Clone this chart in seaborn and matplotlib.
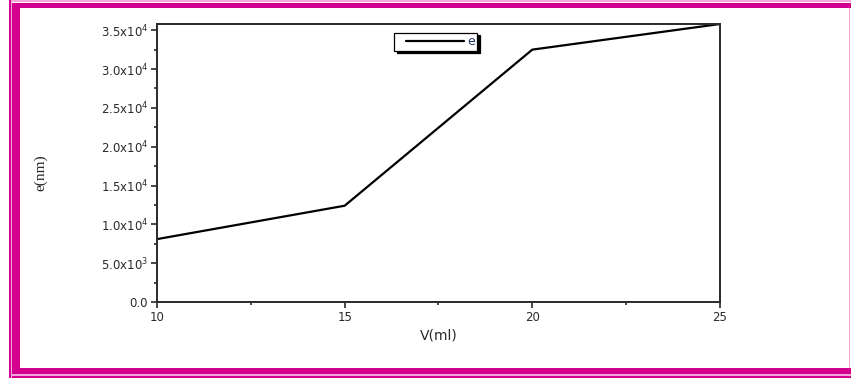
import matplotlib
matplotlib.use("Agg")
import matplotlib.pyplot as plt
from matplotlib.patches import Rectangle
from matplotlib.lines import Line2D
from matplotlib.legend_handler import HandlerLine2D
from matplotlib.ticker import MultipleLocator, FixedLocator
import seaborn as sns
import pandas as pd

# Measured thickness e (nm) versus added volume V (ml)
volume_ml = [10, 15, 20, 25]
thickness_nm = [8100, 12400, 32500, 35800]
series_name = "e"

y_ticks = [0, 5000, 10000, 15000, 20000, 25000, 30000, 35000]
y_tick_labels = ["0.0", r"5.0x10$^3$", r"1.0x10$^4$", r"1.5x10$^4$", r"2.0x10$^4$",
                 r"2.5x10$^4$", r"3.0x10$^4$", r"3.5x10$^4$"]
x_ticks = [10, 15, 20, 25]

sns.set_style("ticks")
plt.rcParams["font.family"] = ["DejaVu Sans"]
plt.rcParams["mathtext.fontset"] = "dejavusans"

df = pd.DataFrame({"V": volume_ml, "e": thickness_nm, "series": series_name})

fig = plt.figure(figsize=(8.51, 3.78), dpi=100)
ax = fig.add_axes([0.1845, 0.201, 0.6615, 0.7355])

sns.lineplot(data=df, x="V", y="e", hue="series", palette=["black"],
             linewidth=1.6, ax=ax, legend=True)

ax.set_xlim(10, 25)
ax.set_ylim(0, 35800)
ax.xaxis.set_major_locator(FixedLocator(x_ticks))
ax.xaxis.set_minor_locator(MultipleLocator(2.5))
ax.yaxis.set_major_locator(FixedLocator(y_ticks))
ax.yaxis.set_minor_locator(MultipleLocator(2500))
ax.set_yticklabels(y_tick_labels)
ax.set_xticklabels([str(v) for v in x_ticks])

ax.tick_params(axis="both", which="major", direction="out", length=4, width=1.2,
               labelsize=8.5, colors="#2a2a2a", pad=2.5)
ax.tick_params(axis="both", which="minor", direction="out", length=2.5, width=1.2,
               colors="#2a2a2a")
ax.tick_params(top=False, right=False, which="both")
for side in ["top", "right", "bottom", "left"]:
    ax.spines[side].set_visible(True)
    ax.spines[side].set_linewidth(1.4)
    ax.spines[side].set_color("#2a2a2a")

ax.set_xlabel("V(ml)", fontsize=10, color="#2a2a2a")
ax.xaxis.set_label_coords(0.5, -0.122)
ax.xaxis.label.set_va("center")
ax.set_ylabel("e(nm)", fontsize=11, family=["Liberation Serif", "DejaVu Serif"],
              color="#2a2a2a")
ax.yaxis.set_label_coords(-0.206, 0.464)
ax.yaxis.label.set_va("center")

leg = ax.legend(loc="center", bbox_to_anchor=(0.495, 0.937), frameon=True,
                fancybox=False, shadow={"color": "black", "alpha": 1},
                edgecolor="black", fontsize=9, handlelength=5.4,
                handletextpad=0.25, borderpad=0.2, borderaxespad=0,
                handler_map={Line2D: HandlerLine2D(xpad=0.8)})
leg.get_frame().set_linewidth(0.9)
for t in leg.get_texts():
    t.set_color("#1f3566")

# Decorative magenta double frame around the figure
magenta = "#d4008f"
light = "#f2a8d8"
W, H = 851.0, 378.0

def frame_rect(x0, y0, x1, y1, color):
    fig.add_artist(Rectangle((x0 / W, 1 - y1 / H), (x1 - x0) / W, (y1 - y0) / H,
                             transform=fig.transFigure, facecolor=color,
                             edgecolor="none", zorder=10))

# thick inner band (left, top, bottom)
frame_rect(12, 3, 20, 374, magenta)
frame_rect(12, 3, 851, 8, magenta)
frame_rect(12, 368, 851, 374, magenta)
# thin outer lines
frame_rect(9, 0, 10.5, 378, magenta)
frame_rect(10.5, 0, 12, 378, light)
frame_rect(12, 0, 851, 1.5, light)
frame_rect(12, 374, 851, 376, light)
frame_rect(12, 376, 851, 377.5, magenta)
frame_rect(848.5, 8, 850, 368, light)

fig.savefig("out.png", dpi=100)
